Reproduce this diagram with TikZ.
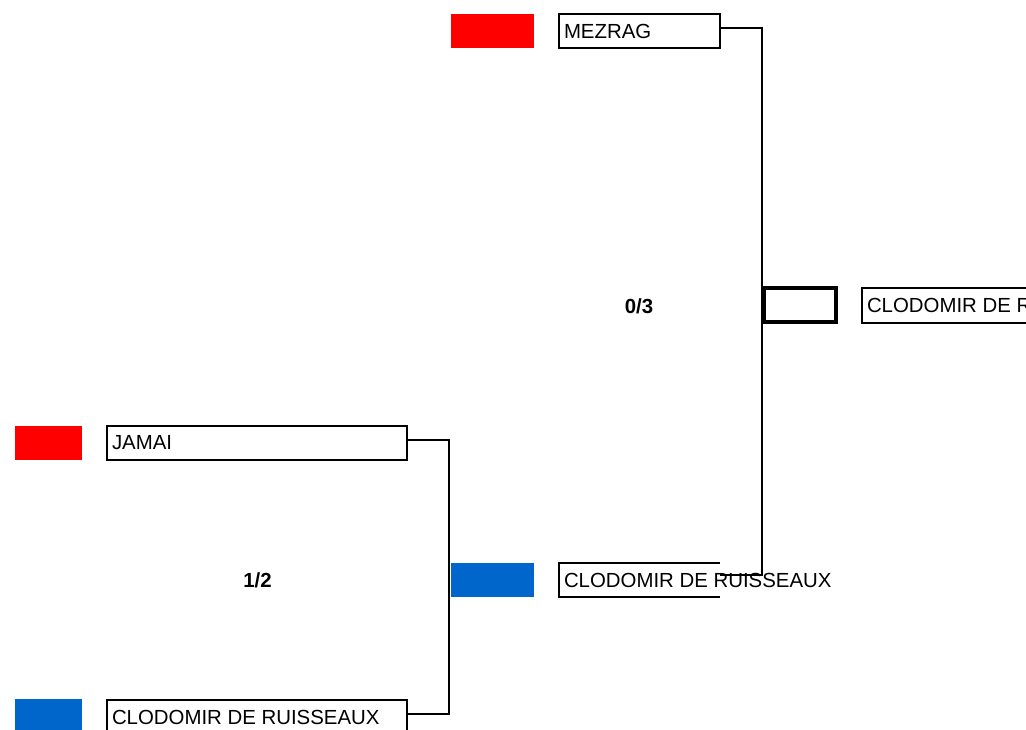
\documentclass[tikz,border=0pt]{standalone}
\usepackage{fontspec}
\setmainfont{Liberation Sans}
\definecolor{flagred}{RGB}{255,0,0}
\definecolor{flagblue}{RGB}{0,102,204}
\begin{document}
\begin{tikzpicture}[
            x=1pt, y=-1pt,
            every node/.style={inner sep=0pt, outer sep=0pt},
            namebox/.style={draw, line width=2pt, minimum width=161pt, minimum height=34pt, anchor=north west},
            nametext/.style={anchor=west, font=\fontsize{20.4}{24}\selectfont},
            flag/.style={minimum width=83pt, minimum height=34pt, anchor=north west},
            winbox/.style={draw, line width=3.5pt, minimum width=72pt, minimum height=34pt, anchor=north west},
            score/.style={font=\fontsize{20.4}{24}\selectfont\bfseries},
            bracket/.style={draw, line width=2pt}
            ]
            \useasboundingbox (0,0) rectangle (1026,730);
            \clip (0,0) rectangle (1026,730);

            % colour flags
            \node[flag, fill=flagred] (flagmezrag) at (451,14) {};
            \node[flag, fill=flagblue] (flagclodomirmid) at (451,563) {};
            \node[flag, fill=flagred, minimum width=67pt] (flagjamai) at (15,426) {};
            \node[flag, fill=flagblue, minimum width=67pt] (flagclodomirlow) at (15,699) {};

            % name boxes
            \node[namebox] (mezrag) at (559,14) {};
            \node[namebox, draw=none] (clodomirmid) at (559,563) {};
            \draw[line width=2pt] (clodomirmid.north east) -- (clodomirmid.north west)
                -- (clodomirmid.south west) -- (clodomirmid.south east);
            \node[namebox, minimum width=300pt] (jamai) at (107,426) {};
            \node[namebox, minimum width=300pt] (clodomirlow) at (107,700) {};
            \node[namebox, minimum width=300pt, minimum height=35pt] (final) at (862,288) {};
            \node[winbox] (winner) at (764,288) {};

            \foreach \boxname/\name in {mezrag/MEZRAG, clodomirmid/CLODOMIR DE RUISSEAUX,
                jamai/JAMAI, clodomirlow/CLODOMIR DE RUISSEAUX, final/CLODOMIR DE RUISSEAUX}{
                \node[nametext] (\boxname-text) at ([xshift=5pt]\boxname.west) {\name};
            }

            % scores
            \node[score] (score12) at (257.5,580) {1/2};
            \node[score] (score03) at (639,306) {0/3};

            % brackets
            \draw[bracket] ([yshift=3pt]jamai.east) -- ++(42,0) |- ([yshift=3pt]clodomirlow.east);
            \draw[bracket] ([yshift=3pt]mezrag.east) -- ++(42,0) |- ([yshift=5pt]clodomirmid.east);
        \end{tikzpicture}
\end{document}
